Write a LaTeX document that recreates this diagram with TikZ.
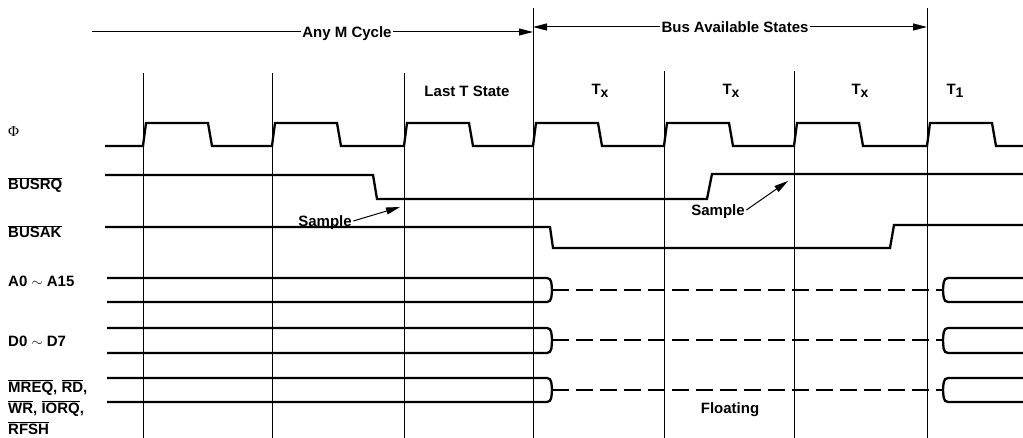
\documentclass[tikz,border=0pt]{standalone}
\usepackage{fontspec}
\setmainfont{Liberation Sans}
\newfontfamily\phifont{Liberation Serif}
\usetikzlibrary{arrows.meta, positioning}

\newcommand{\ovl}[1]{$\overline{\mbox{#1}}$}
\newcommand{\tsub}[1]{\raisebox{-3pt}{\fontsize{14}{14}\selectfont #1}}

\begin{document}
\begin{tikzpicture}[x=1pt,y=-1pt,>={Triangle[length=14pt,width=7pt]},
	sig/.style={line width=2.3pt},
	grid/.style={line width=1pt},
	hiz/.style={sig, dash pattern=on 17pt off 7pt},
	lbl/.style={font=\fontsize{15}{18}\selectfont\bfseries, inner sep=1.5pt, text depth=0pt},
	siglbl/.style={font=\fontsize{15}{18}\selectfont\bfseries, inner sep=0pt, anchor=base west}]

	\useasboundingbox (0,0) rectangle (1023,438);

	% time grid
	\foreach \x/\yt in {143/73, 272/73, 404/73, 533/8, 664/71, 794/71, 927/8}
		\draw [grid] (\x,\yt) -- (\x,438);

	% cycle arrows
	\coordinate (mstart) at (92,32);
	\coordinate (mend) at (533,32);
	\node (mcycle) [lbl] at (347,32) {Any M Cycle};
	\draw [grid] (mstart) -- (mcycle);
	\draw [grid, ->] (mcycle) -- (mend);

	\coordinate (bstart) at (533,27);
	\coordinate (bend) at (927,27);
	\node (bavail) [lbl] at (735,27) {Bus Available States};
	\draw [grid, ->] (bavail) -- (bstart);
	\draw [grid, ->] (bavail) -- (bend);

	% state names
	\node (tlast) [lbl] at (467,91) {Last T State};
	\node (tx1) [lbl] at (600,89) {T\tsub{x}};
	\node (tx2) [lbl] at (731,89) {T\tsub{x}};
	\node (tx3) [lbl] at (860,89) {T\tsub{x}};
	\node (t1) [lbl] at (955,89) {T\tsub{1}};

	% signal names
	\node (phi) [siglbl] at (8,137) {\phifont\mdseries Φ};
	\node (busrq) [siglbl] at (8,190) {\ovl{BUSRQ}};
	\node (busak) [siglbl] at (8,238) {\ovl{BUSAK}};
	\node (addr) [siglbl] at (8,287) {A0 $\sim$ A15};
	\node (data) [siglbl] at (8,347) {D0 $\sim$ D7};
	\node (ctl1) [siglbl] at (8,392) {\ovl{MREQ}, \ovl{RD},};
	\node (ctl2) [siglbl] at (8,413) {\ovl{WR}, \ovl{IORQ},};
	\node (ctl3) [siglbl] at (8,434) {\ovl{RFSH}};

	% clock
	\draw [sig] (105,146)
		\foreach \x in {143,272,404,533,664,794,927} {
			-- (\x,146) -- (\x+3,123) -- (\x+65,123) -- (\x+69,146)
		} -- (1023,146);

	% BUSRQ and BUSAK
	\draw [sig] (105,175) -- (373,175) -- (377,199) -- (707,199) -- (712,174) -- (1023,174);
	\draw [sig] (105,227) -- (550,227) -- (553,248) -- (890,248) -- (894,225) -- (1023,225);

	% buses
	\foreach \yt/\ym/\yb in {278/290/302, 328/340/353, 378/390/402} {
		\draw [sig] (107,\yt) -- (547,\yt) to[out=0,in=95] (552,\ym) to[out=-95,in=0] (547,\yb) -- (107,\yb);
		\draw [hiz] (552,\ym) -- (943,\ym);
		\draw [sig] (1023,\yt) -- (948,\yt) to[out=180,in=85] (943,\ym) to[out=-85,in=180] (948,\yb) -- (1023,\yb);
	}

	% sample points
	\node (samp1) [lbl] at (325,221) {Sample};
	\coordinate (samp1tip) at (400,207);
	\draw [grid, ->] (samp1.east) -- (samp1tip);

	\node (samp2) [lbl] at (718,210) {Sample};
	\coordinate (samp2tip) at (788,181);
	\draw [grid, ->] (samp2.east) -- (samp2tip);

	\node (floating) [lbl] at (730,408) {Floating};

\end{tikzpicture}
\end{document}
